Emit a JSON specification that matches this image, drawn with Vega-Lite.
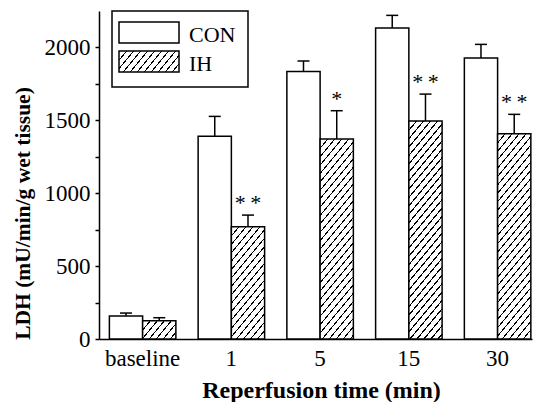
{
  "$schema": "https://vega.github.io/schema/vega-lite/v6.json",
  "autosize": {"type": "none"},
  "padding": {"left": 99, "top": 11, "right": 6, "bottom": 63},
  "width": 433,
  "height": 328,
  "params": [
    {"name": "hatch", "value": [
      {"offset": 0, "color": "#fff"},
      {"offset": 0.03125, "color": "#fff"}, {"offset": 0.03125, "color": "#000"}, {"offset": 0.03725, "color": "#000"}, {"offset": 0.03725, "color": "#fff"},
      {"offset": 0.0625, "color": "#fff"}, {"offset": 0.0625, "color": "#000"}, {"offset": 0.0685, "color": "#000"}, {"offset": 0.0685, "color": "#fff"},
      {"offset": 0.09375, "color": "#fff"}, {"offset": 0.09375, "color": "#000"}, {"offset": 0.09975, "color": "#000"}, {"offset": 0.09975, "color": "#fff"},
      {"offset": 0.125, "color": "#fff"}, {"offset": 0.125, "color": "#000"}, {"offset": 0.131, "color": "#000"}, {"offset": 0.131, "color": "#fff"},
      {"offset": 0.15625, "color": "#fff"}, {"offset": 0.15625, "color": "#000"}, {"offset": 0.16225, "color": "#000"}, {"offset": 0.16225, "color": "#fff"},
      {"offset": 0.1875, "color": "#fff"}, {"offset": 0.1875, "color": "#000"}, {"offset": 0.1935, "color": "#000"}, {"offset": 0.1935, "color": "#fff"},
      {"offset": 0.21875, "color": "#fff"}, {"offset": 0.21875, "color": "#000"}, {"offset": 0.22475, "color": "#000"}, {"offset": 0.22475, "color": "#fff"},
      {"offset": 0.25, "color": "#fff"}, {"offset": 0.25, "color": "#000"}, {"offset": 0.256, "color": "#000"}, {"offset": 0.256, "color": "#fff"},
      {"offset": 0.28125, "color": "#fff"}, {"offset": 0.28125, "color": "#000"}, {"offset": 0.28725, "color": "#000"}, {"offset": 0.28725, "color": "#fff"},
      {"offset": 0.3125, "color": "#fff"}, {"offset": 0.3125, "color": "#000"}, {"offset": 0.3185, "color": "#000"}, {"offset": 0.3185, "color": "#fff"},
      {"offset": 0.34375, "color": "#fff"}, {"offset": 0.34375, "color": "#000"}, {"offset": 0.34975, "color": "#000"}, {"offset": 0.34975, "color": "#fff"},
      {"offset": 0.375, "color": "#fff"}, {"offset": 0.375, "color": "#000"}, {"offset": 0.381, "color": "#000"}, {"offset": 0.381, "color": "#fff"},
      {"offset": 0.40625, "color": "#fff"}, {"offset": 0.40625, "color": "#000"}, {"offset": 0.41225, "color": "#000"}, {"offset": 0.41225, "color": "#fff"},
      {"offset": 0.4375, "color": "#fff"}, {"offset": 0.4375, "color": "#000"}, {"offset": 0.4435, "color": "#000"}, {"offset": 0.4435, "color": "#fff"},
      {"offset": 0.46875, "color": "#fff"}, {"offset": 0.46875, "color": "#000"}, {"offset": 0.47475, "color": "#000"}, {"offset": 0.47475, "color": "#fff"},
      {"offset": 0.5, "color": "#fff"}, {"offset": 0.5, "color": "#000"}, {"offset": 0.506, "color": "#000"}, {"offset": 0.506, "color": "#fff"},
      {"offset": 0.53125, "color": "#fff"}, {"offset": 0.53125, "color": "#000"}, {"offset": 0.53725, "color": "#000"}, {"offset": 0.53725, "color": "#fff"},
      {"offset": 0.5625, "color": "#fff"}, {"offset": 0.5625, "color": "#000"}, {"offset": 0.5685, "color": "#000"}, {"offset": 0.5685, "color": "#fff"},
      {"offset": 0.59375, "color": "#fff"}, {"offset": 0.59375, "color": "#000"}, {"offset": 0.59975, "color": "#000"}, {"offset": 0.59975, "color": "#fff"},
      {"offset": 0.625, "color": "#fff"}, {"offset": 0.625, "color": "#000"}, {"offset": 0.631, "color": "#000"}, {"offset": 0.631, "color": "#fff"},
      {"offset": 0.65625, "color": "#fff"}, {"offset": 0.65625, "color": "#000"}, {"offset": 0.66225, "color": "#000"}, {"offset": 0.66225, "color": "#fff"},
      {"offset": 0.6875, "color": "#fff"}, {"offset": 0.6875, "color": "#000"}, {"offset": 0.6935, "color": "#000"}, {"offset": 0.6935, "color": "#fff"},
      {"offset": 0.71875, "color": "#fff"}, {"offset": 0.71875, "color": "#000"}, {"offset": 0.72475, "color": "#000"}, {"offset": 0.72475, "color": "#fff"},
      {"offset": 0.75, "color": "#fff"}, {"offset": 0.75, "color": "#000"}, {"offset": 0.756, "color": "#000"}, {"offset": 0.756, "color": "#fff"},
      {"offset": 0.78125, "color": "#fff"}, {"offset": 0.78125, "color": "#000"}, {"offset": 0.78725, "color": "#000"}, {"offset": 0.78725, "color": "#fff"},
      {"offset": 0.8125, "color": "#fff"}, {"offset": 0.8125, "color": "#000"}, {"offset": 0.8185, "color": "#000"}, {"offset": 0.8185, "color": "#fff"},
      {"offset": 0.84375, "color": "#fff"}, {"offset": 0.84375, "color": "#000"}, {"offset": 0.84975, "color": "#000"}, {"offset": 0.84975, "color": "#fff"},
      {"offset": 0.875, "color": "#fff"}, {"offset": 0.875, "color": "#000"}, {"offset": 0.881, "color": "#000"}, {"offset": 0.881, "color": "#fff"},
      {"offset": 0.90625, "color": "#fff"}, {"offset": 0.90625, "color": "#000"}, {"offset": 0.91225, "color": "#000"}, {"offset": 0.91225, "color": "#fff"},
      {"offset": 0.9375, "color": "#fff"}, {"offset": 0.9375, "color": "#000"}, {"offset": 0.9435, "color": "#000"}, {"offset": 0.9435, "color": "#fff"},
      {"offset": 0.96875, "color": "#fff"}, {"offset": 0.96875, "color": "#000"}, {"offset": 0.97475, "color": "#000"}, {"offset": 0.97475, "color": "#fff"},
      {"offset": 1, "color": "#fff"}
    ]}
  ],
  "data": {"values": [
    {"time": "baseline", "group": "CON", "mean": 158, "upper": 178, "sig": ""},
    {"time": "baseline", "group": "IH", "mean": 125, "upper": 146, "sig": ""},
    {"time": "1", "group": "CON", "mean": 1390, "upper": 1527, "sig": ""},
    {"time": "1", "group": "IH", "mean": 770, "upper": 850, "sig": "*\u2009*"},
    {"time": "5", "group": "CON", "mean": 1835, "upper": 1907, "sig": ""},
    {"time": "5", "group": "IH", "mean": 1372, "upper": 1566, "sig": "*"},
    {"time": "15", "group": "CON", "mean": 2133, "upper": 2220, "sig": ""},
    {"time": "15", "group": "IH", "mean": 1495, "upper": 1680, "sig": "*\u2009*"},
    {"time": "30", "group": "CON", "mean": 1927, "upper": 2021, "sig": ""},
    {"time": "30", "group": "IH", "mean": 1408, "upper": 1541, "sig": "*\u2009*"}
  ]},
  "encoding": {
    "x": {
      "field": "time", "type": "nominal", "sort": ["baseline", "1", "5", "15", "30"],
      "scale": {"paddingInner": 0.2507, "paddingOuter": 0.065, "align": 0.9},
      "axis": {
        "title": "Reperfusion time (min)", "labelAngle": 0, "ticks": false, "tickSize": 0,
        "labelPadding": 26, "labelBaseline": "alphabetic",
        "labelFont": "Liberation Serif", "labelFontSize": 23, "labelColor": "black",
        "titleFont": "Liberation Serif", "titleFontSize": 24, "titleFontWeight": "bold", "titleColor": "black",
        "titleX": 222, "titleY": 58, "titleBaseline": "alphabetic"
      }
    },
    "xOffset": {"field": "group", "type": "nominal", "sort": ["CON", "IH"], "scale": {"paddingInner": 0, "paddingOuter": 0}}
  },
  "layer": [
    {
      "mark": {"type": "bar", "stroke": "black", "strokeWidth": 1.5},
      "encoding": {
        "y": {
          "field": "mean", "type": "quantitative",
          "scale": {"domain": [0, 2250], "nice": false},
          "axis": {
            "title": "LDH (mU/min/g wet tissue)",
            "values": [0, 250, 500, 750, 1000, 1250, 1500, 1750, 2000],
            "labelExpr": "datum.value % 500 === 0 ? datum.label : ''",
            "format": "d",
            "tickSize": 4, "labelPadding": 5,
            "labelFont": "Liberation Serif", "labelFontSize": 23, "labelColor": "black",
            "titleFont": "Liberation Serif", "titleFontSize": 21.5, "titleFontWeight": "bold", "titleColor": "black",
            "titleX": -76, "titleY": 202, "titleBaseline": "middle", "titleAngle": -90, "titleAlign": "center"
          }
        },
        "fill": {
          "field": "group", "type": "nominal",
          "scale": {"domain": ["CON", "IH"], "range": ["white", {"expr": "{gradient:'linear',x1:0,y1:0,x2:3.4407,y2:1.0035,stops:hatch}"}]},
          "condition": {
            "test": "datum.group === 'IH'",
            "value": {"expr": "{gradient:'linear',x1:0,y1:0,x2:10725/(1592+pow(scale('y',0)-scale('y',datum.mean),2)),y2:268.8*(scale('y',0)-scale('y',datum.mean))/(1592+pow(scale('y',0)-scale('y',datum.mean),2)),stops:hatch}"}
          },
          "legend": {
            "title": null,
            "orient": "none", "legendX": 13, "legendY": 0,
            "symbolType": "M-1.5714,-1.1905H4.1429V0.8095H-1.5714Z", "symbolSize": 441,
            "symbolStrokeColor": "black", "symbolStrokeWidth": 1.5, "symbolOpacity": 1,
            "labelFont": "Liberation Serif", "labelFontSize": 22, "labelColor": "black",
            "labelOffset": 42, "padding": 12, "rowPadding": 1,
            "strokeColor": "black"
          }
        }
      }
    },
    {
      "mark": {"type": "rule", "color": "black", "strokeWidth": 1.5},
      "encoding": {
        "y": {"field": "mean", "type": "quantitative"},
        "y2": {"field": "upper"}
      }
    },
    {
      "mark": {"type": "tick", "color": "black", "size": 12, "thickness": 1.5, "opacity": 1},
      "encoding": {
        "y": {"field": "upper", "type": "quantitative"}
      }
    },
    {
      "mark": {"type": "text", "font": "Liberation Serif", "fontSize": 22, "color": "black", "baseline": "alphabetic", "dy": -5},
      "encoding": {
        "y": {"field": "upper", "type": "quantitative"},
        "text": {"field": "sig"}
      }
    }
  ],
  "config": {
    "font": "Liberation Serif",
    "view": {"stroke": null},
    "axis": {
      "grid": false, "domainColor": "black", "domainWidth": 1.5, "tickColor": "black", "tickWidth": 1.5
    },
    "legend": {"strokeWidth": 1.5}
  }
}
